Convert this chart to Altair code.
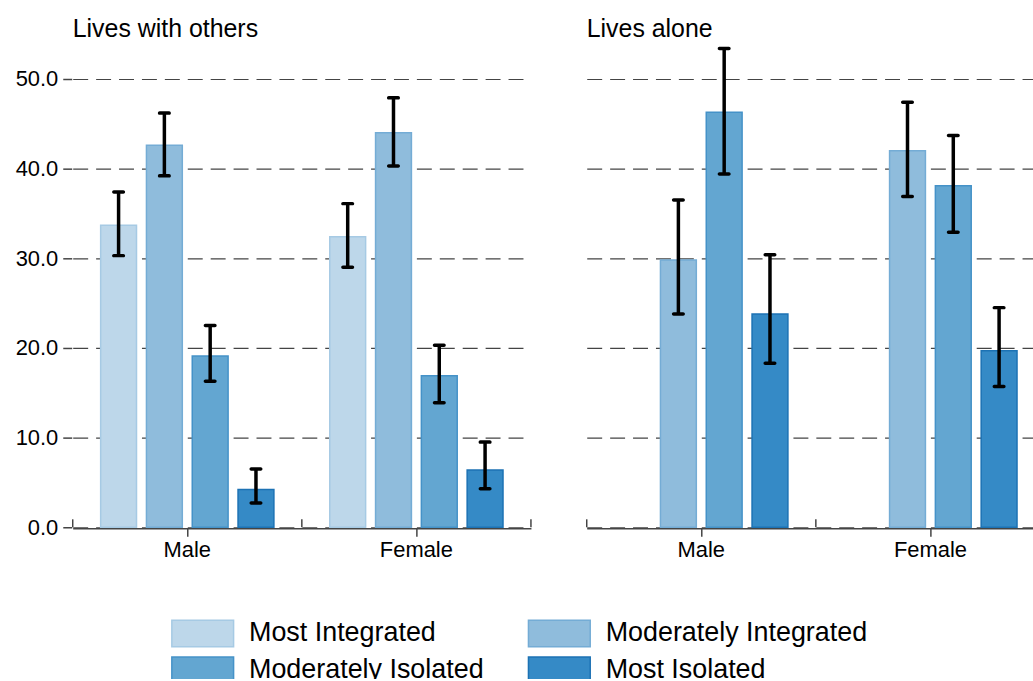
import altair as alt
import pandas as pd

# Panel, sex and social-integration categories
groups = ["Lives with others", "Lives alone"]
sexes = ["Male", "Female"]
levels = ["Most Integrated", "Moderately Integrated", "Moderately Isolated", "Most Isolated"]

# Percentages with 95% confidence limits (lives with others)
with_male_mean = [33.7, 42.6, 19.1, 4.2]
with_male_lo = [30.3, 39.2, 16.3, 2.7]
with_male_hi = [37.4, 46.2, 22.5, 6.5]
with_female_mean = [32.4, 44.0, 16.9, 6.4]
with_female_lo = [29.0, 40.3, 13.9, 4.3]
with_female_hi = [36.1, 47.9, 20.3, 9.5]

# Lives alone: no "Most Integrated" estimate
alone_levels = ["Moderately Integrated", "Moderately Isolated", "Most Isolated"]
alone_male_mean = [29.8, 46.3, 23.8]
alone_male_lo = [23.8, 39.4, 18.3]
alone_male_hi = [36.5, 53.4, 30.4]
alone_female_mean = [42.0, 38.1, 19.7]
alone_female_lo = [36.9, 32.9, 15.7]
alone_female_hi = [47.4, 43.7, 24.5]

fill_colors = ["#bdd7ea", "#8fbcdc", "#63a6d1", "#358ac6"]
stroke_colors = ["#a6cae4", "#74acd5", "#4592c8", "#1c72b4"]

rows = []
def add(group, sex, lvls, mean, lo, hi):
    for l, m, a, b in zip(lvls, mean, lo, hi):
        rows.append({"group": group, "sex": sex, "level": l, "mean": m, "lo": a, "hi": b})

add(groups[0], "Male", levels, with_male_mean, with_male_lo, with_male_hi)
add(groups[0], "Female", levels, with_female_mean, with_female_lo, with_female_hi)
add(groups[1], "Male", alone_levels, alone_male_mean, alone_male_lo, alone_male_hi)
add(groups[1], "Female", alone_levels, alone_female_mean, alone_female_lo, alone_female_hi)
df = pd.DataFrame(rows)

FONT = "Liberation Sans"
H = 486

x_enc = alt.X(
    "sex:N", sort=sexes,
    scale=alt.Scale(paddingInner=0, paddingOuter=0),
    axis=alt.Axis(title=None, labelFontSize=22, labelFont=FONT, labelColor="#000",
                  tickSize=8, tickColor="#444", tickWidth=1.5,
                  domainColor="#444", domainWidth=1.5, labelPadding=3, labelAngle=0),
)
off_enc = alt.XOffset(
    "level:N", sort=levels,
    scale=alt.Scale(domain=levels, paddingInner=0.217, paddingOuter=0.61),
)
y_scale = alt.Scale(domain=[0, 54], nice=False)

bars = alt.Chart().mark_bar(strokeWidth=1.5).encode(
    x=x_enc,
    xOffset=off_enc,
    y=alt.Y("mean:Q", scale=y_scale,
            axis=alt.Axis(values=[0, 10, 20, 30, 40, 50], format=".1f", title=None,
                          grid=True, gridDash=[15, 8], gridColor="#444", gridWidth=1.2,
                          domain=False, tickSize=9, tickColor="#444", tickWidth=1.5,
                          labelFontSize=22, labelFont=FONT, labelColor="#000", labelPadding=5)),
    fill=alt.Fill("level:N", sort=levels,
                  scale=alt.Scale(domain=levels, range=fill_colors),
                  legend=alt.Legend(title=None)),
    stroke=alt.Stroke("level:N", sort=levels,
                      scale=alt.Scale(domain=levels, range=stroke_colors),
                      legend=alt.Legend(title=None)),
)

whisker = alt.Chart().mark_rule(color="black", strokeWidth=3.5).encode(
    x=alt.X("sex:N", sort=sexes),
    xOffset=alt.XOffset("level:N", sort=levels),
    y=alt.Y("lo:Q", scale=y_scale),
    y2="hi:Q",
)
cap_hi = alt.Chart().mark_tick(color="black", size=13, thickness=3.5, cornerRadius=1.7, opacity=1).encode(
    x=alt.X("sex:N", sort=sexes),
    xOffset=alt.XOffset("level:N", sort=levels),
    y=alt.Y("hi:Q", scale=y_scale),
)
cap_lo = alt.Chart().mark_tick(color="black", size=13, thickness=3.5, cornerRadius=1.7, opacity=1).encode(
    x=alt.X("sex:N", sort=sexes),
    xOffset=alt.XOffset("level:N", sort=levels),
    y=alt.Y("lo:Q", scale=y_scale),
)

# Upward ticks marking the edges of each sex group on the x axis
edge_start = alt.Chart().mark_rule(color="#444", strokeWidth=1.5).encode(
    x=alt.X("sex:N", sort=sexes, bandPosition=0),
    y=alt.value(H),
    y2=alt.value(H - 8),
).transform_filter(alt.datum.level == "Moderately Integrated")
edge_end = alt.Chart().mark_rule(color="#444", strokeWidth=1.5).encode(
    x=alt.X("sex:N", sort=sexes, bandPosition=1),
    y=alt.value(H),
    y2=alt.value(H - 8),
).transform_filter((alt.datum.level == "Moderately Integrated") & (alt.datum.sex == "Female"))

layered = alt.layer(bars, whisker, cap_hi, cap_lo, edge_start, edge_end).properties(width=460, height=H)

chart = layered.facet(
    column=alt.Column("group:N", sort=groups,
                      header=alt.Header(title=None, labelFontSize=25, labelFont=FONT, labelColor="#000",
                                        labelAnchor="start", labelAlign="left", labelOrient="top",
                                        labelPadding=1)),
    data=df,
    spacing=54,
).resolve_scale(x="shared").properties(
    padding={"left": 15, "top": 16, "right": -13, "bottom": -9}
).configure_view(stroke=None).configure_legend(
    orient="none", legendX=114, legendY=576, columns=2, direction="horizontal",
    # wide swatch drawn from a compact nominal symbol size
    symbolType="M-2,-0.86H2V0.86H-2Z", symbolSize=961, symbolStrokeWidth=1.5,
    symbolOpacity=1, labelFontSize=27, labelFont=FONT, labelColor="#000", labelLimit=400,
    labelOffset=30, columnPadding=41, rowPadding=4,
)

chart.save("out.html", embed_options={"renderer": "svg", "actions": False})
